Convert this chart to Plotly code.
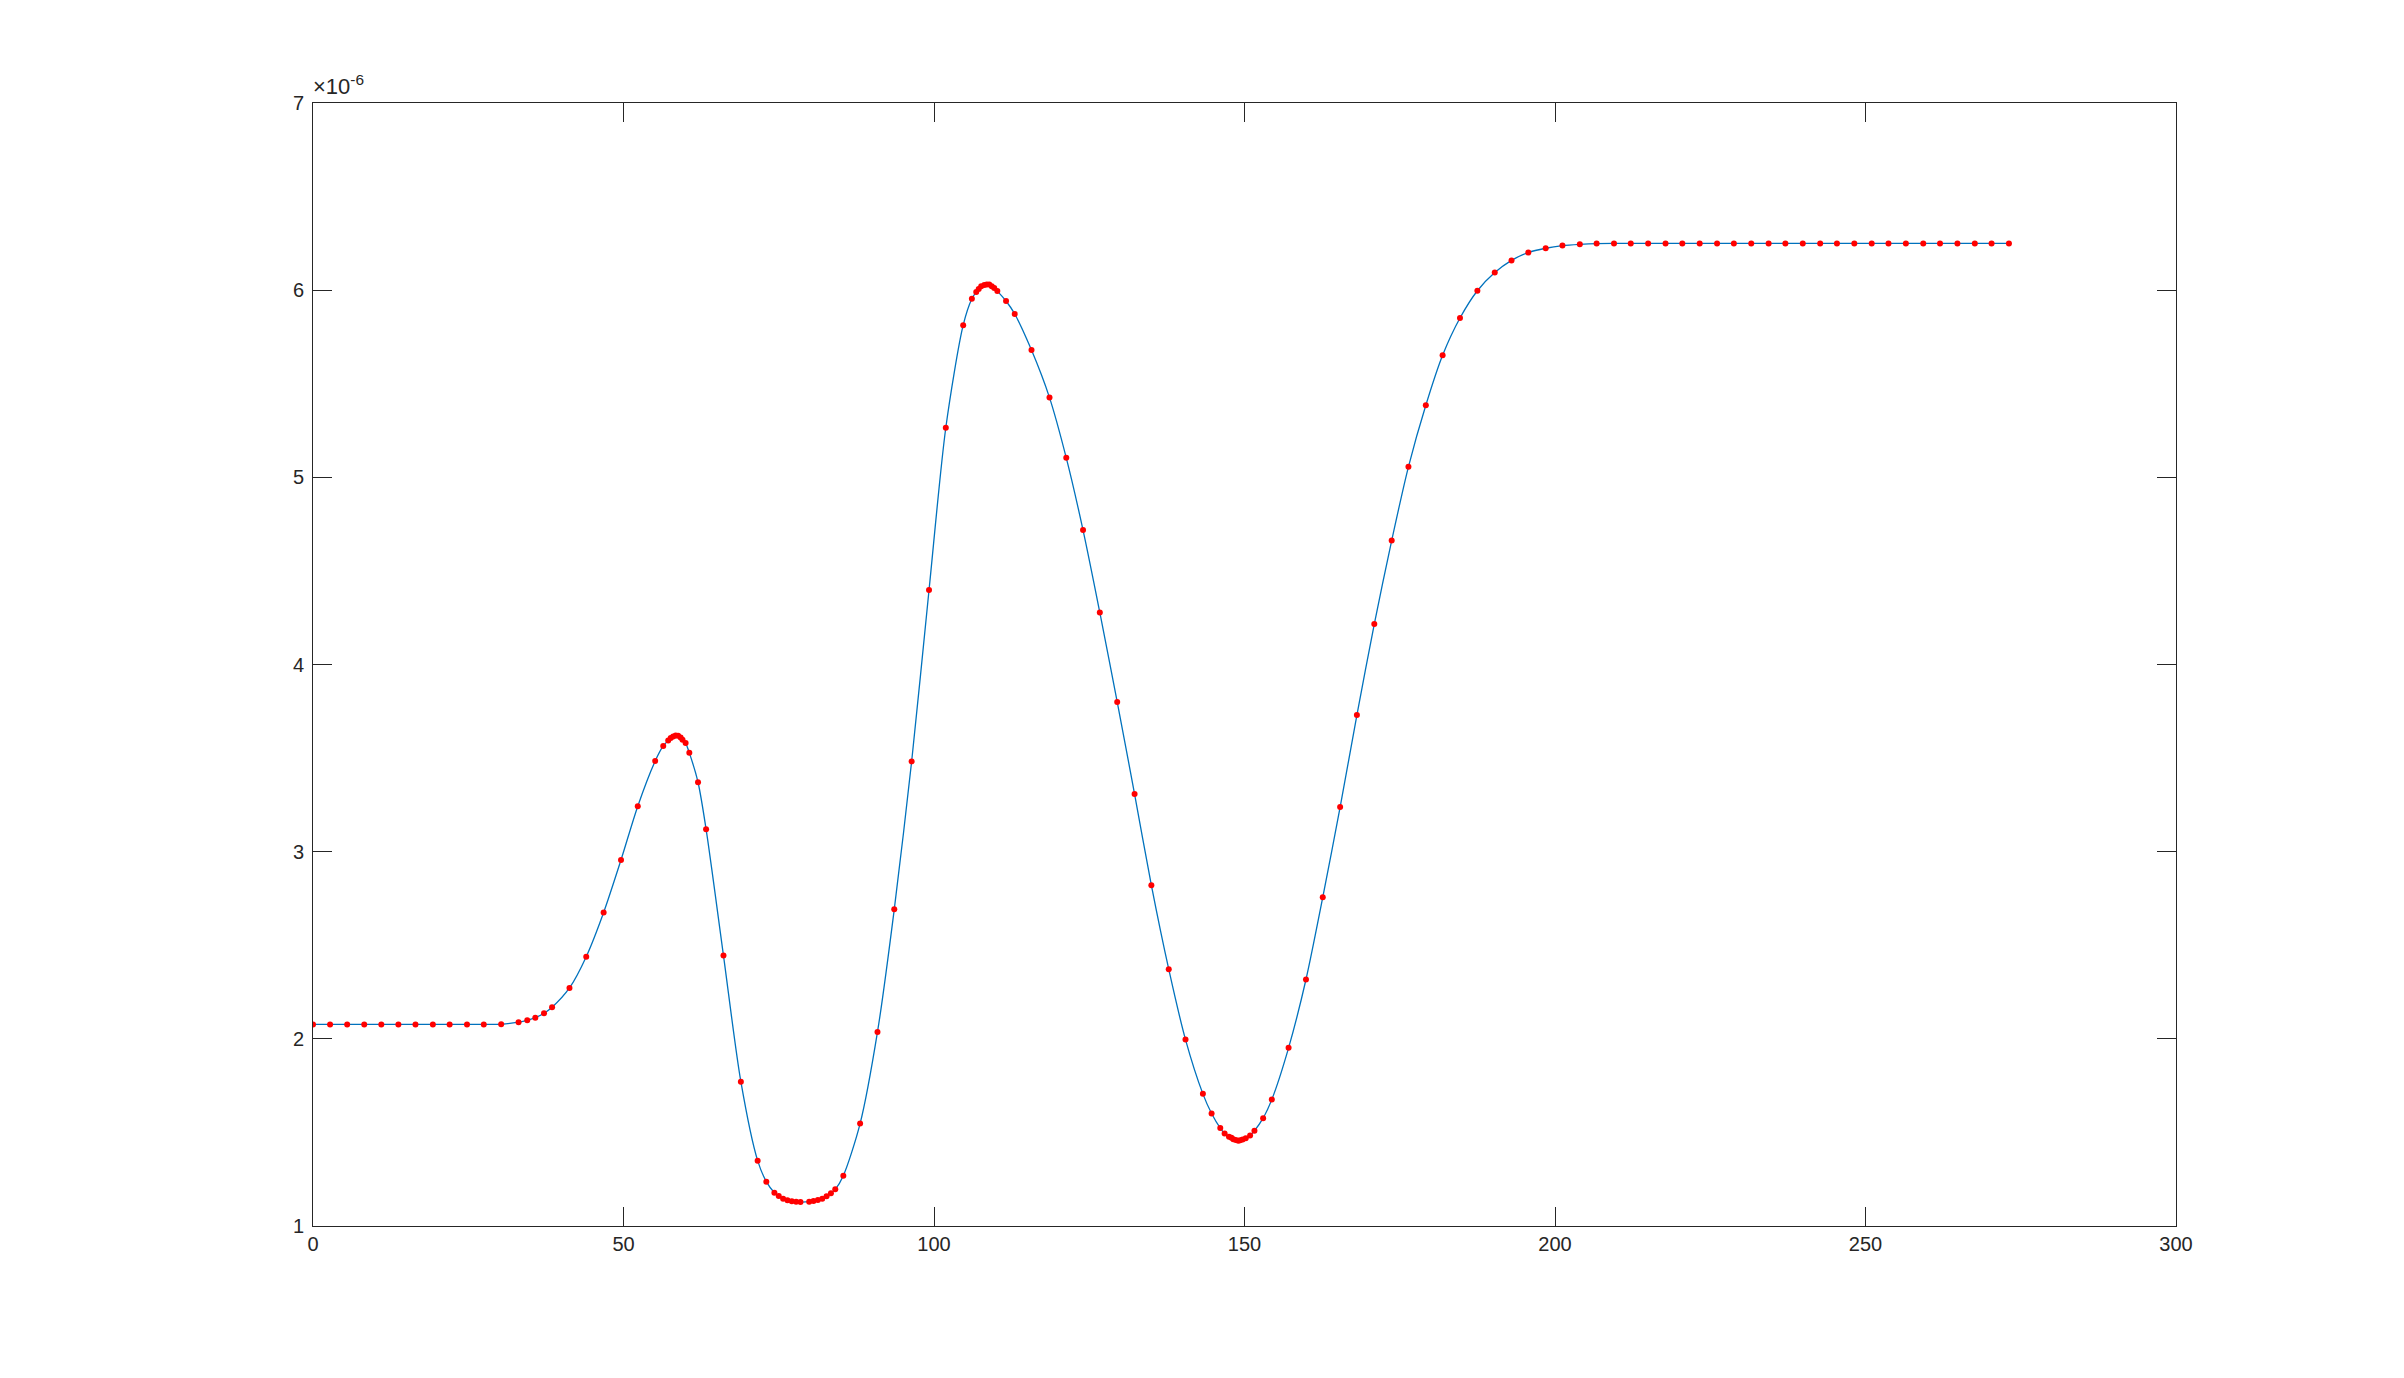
import plotly.graph_objects as go

# x positions of the sampled points
t_vals = [
    0.0, 2.75, 5.5, 8.25, 11.0, 13.75, 16.5, 19.3, 22.0, 24.8, 27.5, 30.3,
    33.1, 34.5, 35.8, 37.2, 38.5, 41.3, 44.0, 46.8, 49.6, 52.3, 55.1,
    56.4, 57.2, 57.6, 58.0, 58.4, 58.8, 59.2, 59.5, 60.0, 60.6, 62.0, 63.3,
    66.1, 68.9, 71.6, 73.0, 74.3, 75.0, 75.7, 76.4, 77.1, 77.8, 78.5,
    79.9, 80.6, 81.3, 82.0, 82.7, 83.4, 84.1, 85.4, 88.1, 90.9, 93.6,
    96.4, 99.2, 101.9, 104.7, 106.1, 106.8, 107.2, 107.6, 108.1, 108.5,
    108.9, 109.3, 109.7, 110.2, 111.6, 113.0, 115.7, 118.6, 121.3, 124.0,
    126.7, 129.5, 132.3, 135.0, 137.8, 140.5, 143.3, 144.7, 146.1, 146.8,
    147.5, 147.9, 148.2, 148.6, 149.0, 149.3, 149.7, 150.2, 150.9, 151.6,
    153.0, 154.4, 157.1, 159.9, 162.6, 165.4, 168.1, 170.9, 173.7, 176.4,
    179.2, 181.9, 184.7, 187.5, 190.3, 193.0, 195.7, 198.5, 201.2, 204.0,
    206.7, 209.5, 212.2, 215.0, 217.8, 220.5, 223.3, 226.1, 228.8, 231.6,
    234.4, 237.1, 239.9, 242.7, 245.4, 248.2, 251.0, 253.7, 256.5, 259.3,
    262.0, 264.8, 267.6, 270.3, 273.1,
]

# values in units of 1e-6
v_micro = [
    2.077, 2.077, 2.077, 2.077, 2.077, 2.077, 2.077, 2.077, 2.077, 2.077, 2.077, 2.078,
    2.089, 2.099, 2.113, 2.137, 2.169, 2.272, 2.439, 2.675, 2.956, 3.243, 3.484,
    3.565, 3.594, 3.607, 3.615, 3.620, 3.619, 3.610, 3.598, 3.580, 3.528, 3.371, 3.120,
    2.445, 1.771, 1.349, 1.237, 1.178, 1.160, 1.146, 1.137, 1.132, 1.130, 1.128,
    1.130, 1.134, 1.139, 1.146, 1.159, 1.175, 1.196, 1.269, 1.547, 2.037, 2.692,
    3.482, 4.398, 5.265, 5.813, 5.954, 5.990, 6.006, 6.021, 6.028, 6.030,
    6.030, 6.021, 6.011, 5.995, 5.942, 5.873, 5.680, 5.426, 5.104, 4.718,
    4.278, 3.800, 3.308, 2.821, 2.372, 1.996, 1.706, 1.601, 1.523, 1.494,
    1.477, 1.471, 1.463, 1.460, 1.456, 1.458, 1.462, 1.469, 1.484, 1.509,
    1.576, 1.676, 1.952, 2.317, 2.756, 3.238, 3.730, 4.216, 4.662, 5.056,
    5.385, 5.652, 5.851, 5.997, 6.094, 6.159, 6.201, 6.224, 6.238, 6.245,
    6.249, 6.250, 6.250, 6.250, 6.250, 6.250, 6.250, 6.250, 6.250, 6.250,
    6.250, 6.250, 6.250, 6.250, 6.250, 6.250, 6.250, 6.250, 6.250, 6.250,
    6.250, 6.250, 6.250, 6.250, 6.250,
]

x_ticks = [0, 50, 100, 150, 200, 250, 300]
y_tick_labels = ["1", "2", "3", "4", "5", "6", "7"]
y_exponent = 1e-6

y_vals = [v * y_exponent for v in v_micro]
y_tickvals = [int(s) * y_exponent for s in y_tick_labels]

axis_color = "#262626"
font_family = "Liberation Sans, Arial, Helvetica, sans-serif"

fig = go.Figure()
fig.add_trace(go.Scatter(
    x=t_vals, y=y_vals, mode="lines",
    line=dict(color="#0072BD", width=1.3, shape="spline", smoothing=0.8),
    hoverinfo="skip", showlegend=False,
))
fig.add_trace(go.Scatter(
    x=t_vals, y=y_vals, mode="markers",
    marker=dict(color="#FF0000", size=6, line=dict(width=0)),
    showlegend=False,
))

fig.update_layout(
    width=2404, height=1378,
    margin=dict(l=305, r=236, t=95, b=160),
    paper_bgcolor="white", plot_bgcolor="white",
    font=dict(family=font_family, size=20, color=axis_color),
    xaxis=dict(
        range=[0, 300], tickvals=x_ticks, ticktext=[str(v) for v in x_ticks],
        showline=True, linecolor=axis_color, linewidth=1, mirror="ticks",
        ticks="inside", ticklen=19, tickwidth=1, tickcolor=axis_color,
        showgrid=False, zeroline=False, tickfont=dict(size=20),
    ),
    yaxis=dict(
        range=[1 * y_exponent, 7 * y_exponent], tickvals=y_tickvals, ticktext=y_tick_labels,
        showline=True, linecolor=axis_color, linewidth=1, mirror="ticks",
        ticks="inside", ticklen=19, tickwidth=1, tickcolor=axis_color,
        showgrid=False, zeroline=False, tickfont=dict(size=20),
        ticklabelstandoff=4,
    ),
    annotations=[dict(
        text="×10<sup>-6</sup>", xref="paper", yref="paper", x=0, y=1,
        xanchor="left", yanchor="bottom", showarrow=False, xshift=-2, yshift=2,
        font=dict(size=22, color=axis_color, family=font_family),
    )],
)

fig.write_html("out.html")
